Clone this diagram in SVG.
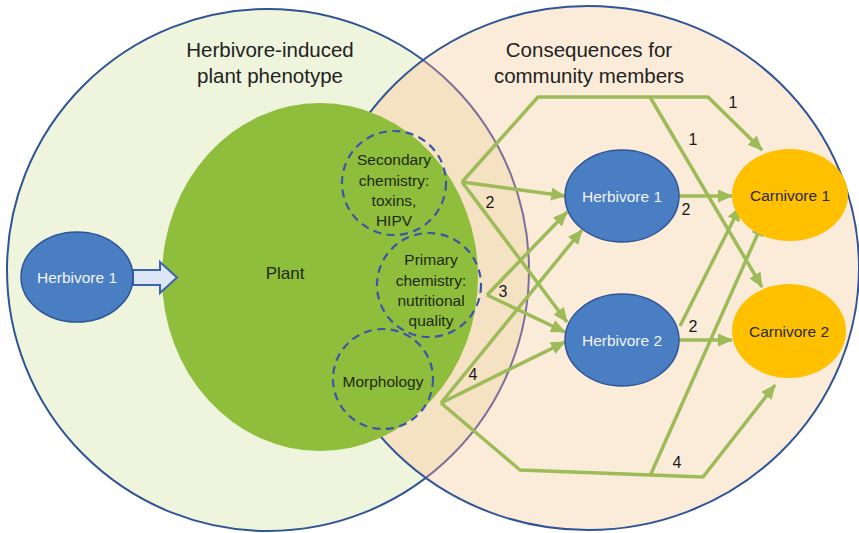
<svg xmlns="http://www.w3.org/2000/svg" width="859" height="533" viewBox="0 0 859 533">
<defs>
<style>
text{font-family:"Liberation Sans",Arial,sans-serif;text-anchor:middle}
.title{font-size:20.5px;fill:#222}
.lbl{font-size:15.5px;fill:#1e2a10}
.num{font-size:16px;fill:#1a1a1a}
.herb{fill:#4A7EC2;stroke:#2F5597;stroke-width:1.5}
.herbt{font-size:15.5px;fill:#F2F4FA}
.carn{fill:#FFC000}
.carnt{font-size:15.5px;fill:#2a2a2a}
.dash{fill:none;stroke:#3A55AA;stroke-width:2.2;stroke-dasharray:8 5.5}
.con{fill:none;stroke:#9DBB59;stroke-width:3.5;stroke-linejoin:round}
.arr{marker-end:url(#ah)}
</style>
<marker id="ah" markerUnits="userSpaceOnUse" markerWidth="15" markerHeight="13" refX="14" refY="6.5" orient="auto">
<path d="M0,0 L15,6.5 L0,13 z" fill="#9DBB59"/>
</marker>
<clipPath id="rc"><ellipse cx="588" cy="268" rx="271" ry="262"/></clipPath>
</defs>

<g id="background">
<circle cx="268" cy="270" r="261" fill="#EFF4DC" stroke="#2F5597" stroke-width="2"/>
<ellipse cx="588" cy="268" rx="271" ry="262" fill="#FBEBD9"/>
<circle cx="268" cy="270" r="261" fill="#F4E2C2" stroke="#7E7199" stroke-width="2" clip-path="url(#rc)"/>
<ellipse cx="588" cy="268" rx="271" ry="262" fill="none" stroke="#2F5597" stroke-width="2"/>
<text class="title" x="270" y="57">Herbivore-induced</text>
<text class="title" x="270" y="83">plant phenotype</text>
<text class="title" x="589" y="57">Consequences for</text>
<text class="title" x="589" y="83">community members</text>
</g>

<g id="plant">
<ellipse cx="320" cy="277" rx="158" ry="174" fill="#8FBD3C"/>
<text class="lbl" x="285" y="279" style="font-size:17px">Plant</text>
</g>

<g id="secondary">
<circle class="dash" cx="394" cy="183" r="52"/>
<text class="lbl" x="394" y="165">Secondary</text>
<text class="lbl" x="394" y="186">chemistry:</text>
<text class="lbl" x="394" y="206">toxins,</text>
<text class="lbl" x="394" y="226">HIPV</text>
</g>

<g id="primary">
<circle class="dash" cx="429" cy="285" r="52"/>
<text class="lbl" x="431" y="265">Primary</text>
<text class="lbl" x="431" y="286">chemistry:</text>
<text class="lbl" x="431" y="306">nutritional</text>
<text class="lbl" x="431" y="326">quality</text>
</g>

<g id="morphology">
<circle class="dash" cx="383" cy="379" r="50"/>
<text class="lbl" x="383" y="387">Morphology</text>
</g>

<g id="connectors">
<polygon points="133,270 160,270 160,262 177,277.5 160,293 160,285 133,285" fill="#DCE6F4" stroke="#3B64AD" stroke-width="2"/>
<polyline class="con arr" points="462,182 538,97 708,97 762,150"/>
<line class="con arr" x1="650" y1="97" x2="762" y2="287"/>
<line class="con arr" x1="462" y1="182" x2="565" y2="196"/>
<line class="con arr" x1="462" y1="182" x2="567" y2="322"/>
<line class="con arr" x1="487" y1="295" x2="565" y2="332"/>
<line class="con arr" x1="487" y1="295" x2="567" y2="212"/>
<line class="con arr" x1="441" y1="403" x2="565" y2="342"/>
<line class="con arr" x1="441" y1="403" x2="582" y2="230"/>
<polyline class="con arr" points="441,403 520,470 703,477 775,385"/>
<line class="con arr" x1="650" y1="476" x2="763" y2="222"/>
<line class="con arr" x1="679" y1="196" x2="732" y2="196"/>
<line class="con arr" x1="679" y1="340" x2="732" y2="340"/>
<line class="con arr" x1="680" y1="326" x2="740" y2="207"/>
<text class="num" x="733" y="108">1</text>
<text class="num" x="693" y="145">1</text>
<text class="num" x="490" y="208">2</text>
<text class="num" x="686" y="215">2</text>
<text class="num" x="503" y="297">3</text>
<text class="num" x="693" y="332">2</text>
<text class="num" x="473" y="380">4</text>
<text class="num" x="677" y="468">4</text>
</g>

<g id="herbivore1-left">
<ellipse class="herb" cx="77" cy="277" rx="56" ry="45"/>
<text class="herbt" x="77" y="283">Herbivore 1</text>
</g>

<g id="herbivore1">
<ellipse class="herb" cx="622" cy="196" rx="57" ry="46"/>
<text class="herbt" x="622" y="202">Herbivore 1</text>
</g>

<g id="herbivore2">
<ellipse class="herb" cx="622" cy="340" rx="57" ry="46"/>
<text class="herbt" x="622" y="346">Herbivore 2</text>
</g>

<g id="carnivore1">
<ellipse class="carn" cx="790" cy="195" rx="58" ry="46"/>
<text class="carnt" x="790" y="201">Carnivore 1</text>
</g>

<g id="carnivore2">
<ellipse class="carn" cx="789" cy="331" rx="57" ry="47"/>
<text class="carnt" x="789" y="337">Carnivore 2</text>
</g>
</svg>
